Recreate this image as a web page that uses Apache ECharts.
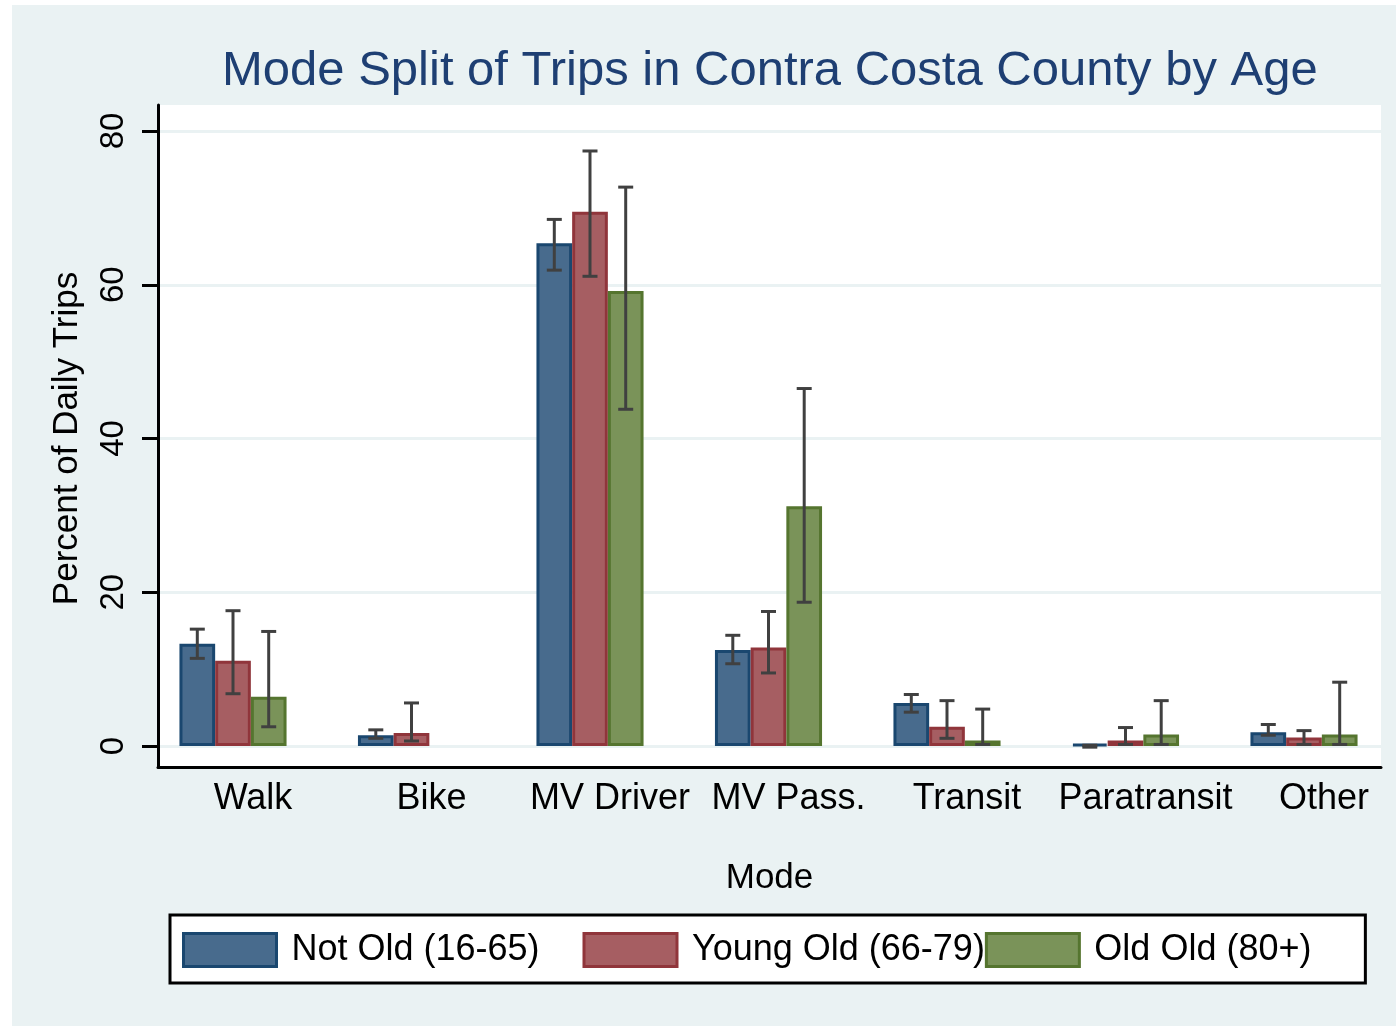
<!DOCTYPE html>
<html>
<head>
<meta charset="utf-8">
<script src="https://cdn.jsdelivr.net/npm/echarts@6/dist/echarts.min.js"></script>
<style>
html,body{margin:0;padding:0;background:#fff;}
#chart{width:1396px;height:1026px;}
</style>
</head>
<body>
<div id="chart"></div>
<script>
const categories = ['Walk', 'Bike', 'MV Driver', 'MV Pass.', 'Transit', 'Paratransit', 'Other'];
const seriesNames = ['Not Old (16-65)', 'Young Old (66-79)', 'Old Old (80+)'];
const yTicks = [0, 20, 40, 60, 80];

const notOld     = [13.3, 1.4, 65.4, 12.5, 5.6, 0.25, 1.8];
const notOldLo   = [11.4, 1.0, 61.9, 10.7, 4.4, -0.15, 1.4];
const notOldHi   = [15.2, 2.1, 68.5, 14.4, 6.7, 0.1, 2.8];

const youngOld   = [11.1, 1.7, 69.5, 12.8, 2.5, 0.7, 1.1];
const youngOldLo = [6.8, 0.65, 61.1, 9.5, 1.0, 0.2, 0.2];
const youngOldHi = [17.6, 5.6, 77.4, 17.5, 5.9, 2.4, 2.0];

const oldOld     = [6.4, null, 59.2, 31.2, 0.7, 1.5, 1.5];
const oldOldLo   = [2.5, null, 43.8, 18.7, 0.2, 0.2, 0.2];
const oldOldHi   = [14.9, null, 72.7, 46.5, 4.8, 5.9, 8.3];

const fills   = ['#486B8D', '#A65E62', '#7A9359'];
const borders = ['#1A476F', '#90353B', '#55752F'];
const values = [notOld, youngOld, oldOld];
const los = [notOldLo, youngOldLo, oldOldLo];
const his = [notOldHi, youngOldHi, oldOldHi];

const FONT = '"Liberation Sans", Arial, sans-serif';
const chart = echarts.init(document.getElementById('chart'));

function errSeries(k) {
  const data = categories.map((c, i) => [i, los[k][i], his[k][i]]).filter(d => d[1] != null);
  return {
    type: 'custom',
    xAxisIndex: 0, yAxisIndex: 0,
    z: 5,
    clip: false,
    silent: true,
    encode: { x: 0, y: [1, 2] },
    data: data,
    renderItem: function (params, api) {
      const idx = api.value(0);
      const lo = api.coord([idx, api.value(1)]);
      const hi = api.coord([idx, api.value(2)]);
      const band = api.size([1, 0])[0];
      const x = lo[0] + (k - 1) * band * 0.2;
      const cw = 7.5;
      const st = { stroke: '#404040', lineWidth: 3 };
      return {
        type: 'group',
        children: [
          { type: 'line', shape: { x1: x, y1: lo[1], x2: x, y2: hi[1] }, style: st },
          { type: 'line', shape: { x1: x - cw, y1: hi[1], x2: x + cw, y2: hi[1] }, style: st },
          { type: 'line', shape: { x1: x - cw, y1: lo[1], x2: x + cw, y2: lo[1] }, style: st }
        ]
      };
    }
  };
}

const legendTextWidths = [291, 291, 259];

const option = {
  backgroundColor: '#ffffff',
  animation: false,
  graphic: [{
    type: 'rect', silent: true, z: -100,
    shape: { x: 12, y: 5, width: 1396 - 12, height: 1026 - 5 },
    style: { fill: '#EAF2F3' }
  }],
  title: {
    text: 'Mode Split of Trips in Contra Costa County by Age',
    left: 222,
    top: 47,
    padding: 0,
    textStyle: { fontFamily: FONT, fontSize: 49, fontWeight: 'normal', color: '#1E3F73', lineHeight: 49 }
  },
  legend: {
    left: 170,
    top: 915,
    orient: 'horizontal',
    padding: [17, 12, 15, 12],
    itemGap: 0,
    itemWidth: 93,
    itemHeight: 33,
    borderColor: '#000',
    borderWidth: 3,
    borderRadius: 0,
    backgroundColor: '#ffffff',
    data: seriesNames.map((n, k) => ({
      name: n,
      icon: 'rect',
      itemStyle: { color: fills[k], borderColor: borders[k], borderWidth: 3 },
      textStyle: {
        fontFamily: FONT, fontSize: 36, color: '#000', lineHeight: 36,
        width: legendTextWidths[k], overflow: 'none', padding: [0, 0, 0, 10]
      }
    }))
  },
  grid: [
    { left: 143.75, right: 2.75, top: 131, bottom: 280, containLabel: false },
    { left: 158, right: 15, top: 105, bottom: 259, show: true, backgroundColor: '#ffffff', borderWidth: 0, z: -10 }
  ],
  xAxis: [
    {
      type: 'category', gridIndex: 0, data: categories,
      axisLine: { show: false }, axisTick: { show: false },
      axisLabel: { fontFamily: FONT, fontSize: 36, color: '#000', margin: 35, padding: [0, 0, 0, 40], interval: 0, lineHeight: 36 },
      splitLine: { show: false }
    },
    {
      type: 'value', gridIndex: 1, min: 0, max: 1, z: 10,
      name: 'Mode', nameLocation: 'middle', nameGap: 94,
      nameTextStyle: { fontFamily: FONT, fontSize: 35, color: '#000', lineHeight: 35 },
      axisLine: { show: true, lineStyle: { color: '#000', width: 3 } },
      axisTick: { show: false }, axisLabel: { show: false }, splitLine: { show: false }
    }
  ],
  yAxis: [
    {
      type: 'value', gridIndex: 0, min: 0, max: 80, interval: 20,
      offset: -14.25,
      name: 'Percent of Daily Trips', nameLocation: 'middle', nameGap: 73, nameRotate: 90,
      nameTextStyle: { fontFamily: FONT, fontSize: 35, color: '#000', lineHeight: 35 },
      axisLine: { show: false },
      axisTick: { show: true, inside: false, length: 16, lineStyle: { color: '#000', width: 3 } },
      axisLabel: { fontFamily: FONT, fontSize: 33, color: '#000', rotate: 90, margin: 28, lineHeight: 33 },
      splitLine: { show: true, lineStyle: { color: '#EAF2F3', width: 3 } }
    },
    {
      type: 'value', gridIndex: 1, min: 0, max: 1, z: 10,
      axisLine: { show: true, lineStyle: { color: '#000', width: 3 } },
      axisTick: { show: false }, axisLabel: { show: false }, splitLine: { show: false }
    }
  ],
  series: [
    ...seriesNames.map((n, k) => ({
      name: n, type: 'bar', xAxisIndex: 0, yAxisIndex: 0,
      data: values[k],
      barGap: '0%', barCategoryGap: '40%',
      itemStyle: { color: fills[k], borderColor: borders[k], borderWidth: 3 },
      emphasis: { disabled: true }
    })),
    errSeries(0), errSeries(1), errSeries(2)
  ]
};
chart.setOption(option);
</script>
</body>
</html>
